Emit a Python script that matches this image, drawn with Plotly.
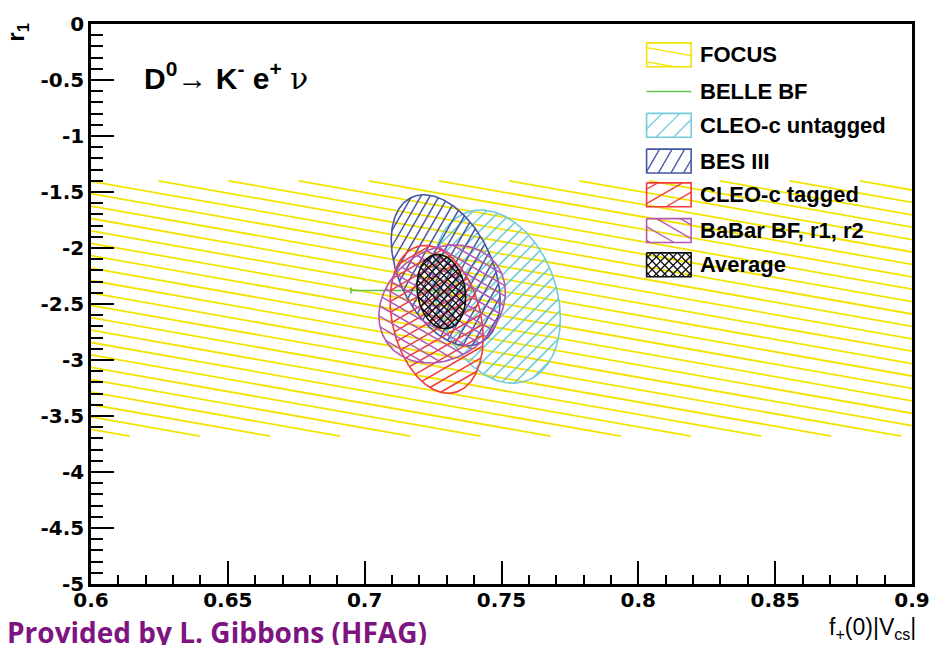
import numpy as np
import plotly.graph_objects as go

# ---------------- data ----------------
x_range = [0.6, 0.9]
y_range = [-5.0, 0.0]
x_ticks = [0.6, 0.65, 0.7, 0.75, 0.8, 0.85, 0.9]
y_ticks = [0, -0.5, -1, -1.5, -2, -2.5, -3, -3.5, -4, -4.5, -5]

focus_r1 = -2.54
focus_r1_err = 1.14

belle_f = 0.717
belle_f_err = 0.022
belle_r1 = -2.38

ell_names = ["CLEO-c untagged", "BES III", "CLEO-c tagged", "BaBar BF, r1, r2", "Average"]
ell_f = [0.7482, 0.7296, 0.7263, 0.7283, 0.7280]
ell_r1 = [-2.434, -2.199, -2.637, -2.500, -2.389]
ell_sf = [0.0233, 0.0199, 0.0170, 0.0231, 0.0089]
ell_sr = [0.773, 0.674, 0.660, 0.527, 0.332]
ell_rho = [-0.25, -0.40, -0.25, 0.20, -0.15]

legend_labels = ["FOCUS", "BELLE BF", "CLEO-c untagged", "BES III", "CLEO-c tagged",
                 "BaBar BF, r1, r2", "Average"]

# ---------------- styles ----------------
YELLOW = "#f3e300"
GREEN = "#62c24a"
ell_colors = ["#72ccd9", "#4455a6", "#f23a3a", "#b257b4", "#111111"]
ell_angles = [[45], [60], [30], [-30], [45, -45]]
ell_spacing = [9.5, 8.0, 9.5, 9.0, 5.6]
ell_hatch_w = [1.6, 1.5, 1.5, 1.5, 1.3]
focus_angle = -10
focus_spacing = 12.3

W, H = 942, 645
ML, MR, MT, MB = 91, 22, 20, 61
PW, PH = W - ML - MR, H - MT - MB


def to_px(x, y):
    px = ML + (np.asarray(x) - x_range[0]) / (x_range[1] - x_range[0]) * PW
    py = MT + (y_range[1] - np.asarray(y)) / (y_range[1] - y_range[0]) * PH
    return px, py


def to_data(px, py):
    x = x_range[0] + (np.asarray(px) - ML) / PW * (x_range[1] - x_range[0])
    y = y_range[1] - (np.asarray(py) - MT) / PH * (y_range[1] - y_range[0])
    return x, y


def hatch(px, py, angle_deg, spacing):
    """Hatch lines clipped to polygon given in pixel coords; returns data-coord lists."""
    u = np.asarray(px, float)
    v = -np.asarray(py, float)
    th = np.radians(angle_deg)
    d = np.array([np.cos(th), np.sin(th)])
    n = np.array([-np.sin(th), np.cos(th)])
    P = np.column_stack([u, v])
    P2 = np.roll(P, -1, axis=0)
    s = P @ n
    s2 = np.roll(s, -1)
    xs, ys = [], []
    kmin = int(np.ceil(s.min() / spacing))
    kmax = int(np.floor(s.max() / spacing))
    for k in range(kmin, kmax + 1):
        c = k * spacing + 1e-6
        mask = (s - c) * (s2 - c) < 0
        if mask.sum() < 2:
            continue
        frac = (c - s[mask]) / (s2[mask] - s[mask])
        pts = P[mask] + frac[:, None] * (P2[mask] - P[mask])
        pts = pts[np.argsort(pts @ d)]
        for i in range(0, len(pts) - 1, 2):
            a, b = pts[i], pts[i + 1]
            dx, dy = to_data([a[0], b[0]], [-a[1], -b[1]])
            xs += [dx[0], dx[1], None]
            ys += [dy[0], dy[1], None]
    return xs, ys


def ellipse(cx, cy, sx, sy, rho, n=240):
    t = np.linspace(0, 2 * np.pi, n, endpoint=False)
    x = cx + sx * np.cos(t)
    y = cy + sy * (rho * np.cos(t) + np.sqrt(1 - rho ** 2) * np.sin(t))
    return x, y


fig = go.Figure()

# FOCUS band
fx = [x_range[0], x_range[1], x_range[1], x_range[0]]
fy = [focus_r1 + focus_r1_err, focus_r1 + focus_r1_err, focus_r1 - focus_r1_err, focus_r1 - focus_r1_err]
bpx, bpy = to_px(fx, fy)
hx, hy = hatch(bpx, bpy, focus_angle, focus_spacing)
fig.add_trace(go.Scatter(x=hx, y=hy, mode="lines", line=dict(color=YELLOW, width=1.8),
                         hoverinfo="skip", showlegend=False))

# BELLE
fig.add_trace(go.Scatter(x=[belle_f], y=[belle_r1], mode="markers",
                         marker=dict(size=1, color=GREEN),
                         error_x=dict(type="constant", value=belle_f_err, color=GREEN,
                                      thickness=1.6, width=3),
                         showlegend=False))

# ellipses
for i in range(len(ell_names)):
    ex, ey = ellipse(ell_f[i], ell_r1[i], ell_sf[i], ell_sr[i], ell_rho[i])
    epx, epy = to_px(ex, ey)
    for ang in ell_angles[i]:
        hx, hy = hatch(epx, epy, ang, ell_spacing[i])
        fig.add_trace(go.Scatter(x=hx, y=hy, mode="lines",
                                 line=dict(color=ell_colors[i], width=ell_hatch_w[i]),
                                 hoverinfo="skip", showlegend=False))
    fig.add_trace(go.Scatter(x=list(ex) + [ex[0]], y=list(ey) + [ey[0]], mode="lines",
                             line=dict(color=ell_colors[i], width=1.6),
                             name=ell_names[i], showlegend=False))

# ---------------- manual legend ----------------
row_py = [51, 88, 122, 158, 192, 228, 262.5]
sw_x0, sw_x1, sw_h = 652, 697, 24
swatch_style = [(YELLOW, [focus_angle], 14.0)] + [None] + \
    [(ell_colors[i], ell_angles[i], ell_spacing[i] + (3 if i < 4 else 0.4)) for i in range(5)]
annotations = []
for r, lab in enumerate(legend_labels):
    yc = row_py[r]
    if swatch_style[r] is None:
        lx, ly = to_data([sw_x0, sw_x1], [yc, yc])
        fig.add_trace(go.Scatter(x=list(lx), y=list(ly), mode="lines",
                                 line=dict(color=GREEN, width=1.6), showlegend=False,
                                 hoverinfo="skip"))
    else:
        col, angs, sp = swatch_style[r]
        rpx = [sw_x0, sw_x1, sw_x1, sw_x0]
        rpy = [yc - sw_h / 2, yc - sw_h / 2, yc + sw_h / 2, yc + sw_h / 2]
        for ang in angs:
            hx, hy = hatch(rpx, rpy, ang, sp)
            fig.add_trace(go.Scatter(x=hx, y=hy, mode="lines", line=dict(color=col, width=1.3),
                                     showlegend=False, hoverinfo="skip"))
        bx, by = to_data(rpx + [rpx[0]], rpy + [rpy[0]])
        fig.add_trace(go.Scatter(x=list(bx), y=list(by), mode="lines",
                                 line=dict(color=col, width=1.6), showlegend=False,
                                 hoverinfo="skip"))
    annotations.append(dict(
        text=lab, xref="paper", yref="paper",
        x=(704 - ML) / PW, y=1 - (yc - MT) / PH, xanchor="left", yanchor="middle",
        showarrow=False, font=dict(family="Liberation Sans", size=22, color="black", weight="bold")))

# titles and notes
annotations.append(dict(
    text="<b>D<sup>0</sup></b>→ <b>K<sup>-</sup> e<sup>+</sup></b> <span style='font-family:DejaVu Serif'>ν</span>",
    xref="paper", yref="paper", x=(143 - ML) / PW, y=1 - (73 - MT) / PH,
    xanchor="left", yanchor="middle", showarrow=False,
    font=dict(family="Liberation Sans", size=30, color="black")))
annotations.append(dict(
    text="<b>r<sub>1</sub></b>", xref="paper", yref="paper",
    x=(17 - ML) / PW, y=1 - (28 - MT) / PH, xanchor="center", yanchor="middle",
    textangle=-90, showarrow=False,
    font=dict(family="Liberation Sans", size=24, color="black")))
annotations.append(dict(
    text="f<sub>+</sub>(0)|V<sub>cs</sub>|", xref="paper", yref="paper",
    x=(926 - ML) / PW, y=1 - (629 - MT) / PH, xanchor="right", yanchor="middle",
    showarrow=False, font=dict(family="Liberation Sans", size=23, color="black")))
annotations.append(dict(
    text="<b>Provided by L. Gibbons (HFAG)</b>", xref="paper", yref="paper",
    x=(4 - ML) / PW, y=1 - (632 - MT) / PH, xanchor="left", yanchor="middle",
    showarrow=False, font=dict(family="Open Sans", size=28, color="#7d147f")))

axis_common = dict(showgrid=False, zeroline=False, showline=True, mirror=True,
                   linecolor="black", linewidth=2.5, ticks="inside", tickcolor="black",
                   tickwidth=1.5, ticklen=23,
                   tickfont=dict(family="DejaVu Sans", size=20, color="black", weight="bold"))

fig.update_layout(
    width=W, height=H, autosize=False,
    margin=dict(l=ML, r=MR, t=MT, b=MB, pad=0),
    paper_bgcolor="white", plot_bgcolor="white",
    showlegend=False,
    xaxis=dict(range=x_range, tickvals=x_ticks, ticktext=[f"{v:g}" for v in x_ticks],
               ticklabelstandoff=-4,
               minor=dict(dtick=0.01, ticks="inside", ticklen=9, tickcolor="black", tickwidth=1.5),
               **axis_common),
    yaxis=dict(range=y_range, tickvals=y_ticks, ticktext=[f"{v:g}" for v in y_ticks],
               minor=dict(dtick=0.1, ticks="inside", ticklen=12, tickcolor="black", tickwidth=1.5),
               **axis_common),
    annotations=annotations,
)

fig.write_html("out.html")
